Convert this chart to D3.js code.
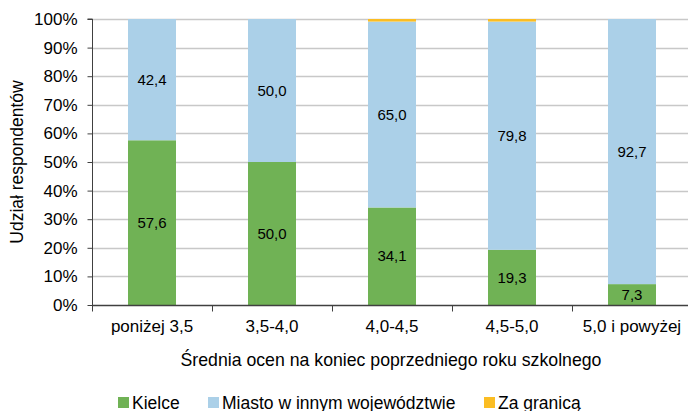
<!DOCTYPE html>
<html>
<head>
<meta charset="utf-8">
<script src="https://d3js.org/d3.v7.min.js"></script>
<style>
  html, body { margin: 0; padding: 0; background: #fff; }
  text { font-family: "Liberation Sans", Arial, sans-serif; fill: #000; }
</style>
</head>
<body>
<script>
// chart data
const categories = ["poniżej 3,5", "3,5-4,0", "4,0-4,5", "4,5-5,0", "5,0 i powyżej"];
const seriesNames = ["Kielce", "Miasto w innym województwie", "Za granicą"];
const kielce = [57.6, 50.0, 34.1, 19.3, 7.3];
const miasto = [42.4, 50.0, 65.0, 79.8, 92.7];
const zagranica = [0, 0, 0.9, 0.9, 0];
const yTicks = [0, 10, 20, 30, 40, 50, 60, 70, 80, 90, 100];
const colors = ["#70b255", "#abd0e8", "#fbbd23"];

const width = 688, height = 411;
const margin = { top: 19, right: -4, bottom: 106, left: 92 };

const svg = d3.select("body").append("svg")
    .attr("width", width)
    .attr("height", height);

const x = d3.scaleBand()
    .domain(categories)
    .range([margin.left, width - margin.right])
    .paddingInner(0.6)
    .paddingOuter(0.3);

const xOuter = d3.scaleBand()
    .domain(categories)
    .range([margin.left, width - margin.right]);

const y = d3.scaleLinear()
    .domain([0, 100])
    .range([height - margin.bottom, margin.top]);

// gridlines
svg.append("g")
  .selectAll("line")
  .data(yTicks.filter(d => d > 0))
  .enter().append("line")
    .attr("x1", margin.left)
    .attr("x2", width)
    .attr("y1", d => Math.round(y(d)) + 0.5)
    .attr("y2", d => Math.round(y(d)) + 0.5)
    .attr("stroke", "#c8c8c8")
    .attr("stroke-width", 1.3);

// stacked data
const rows = categories.map((c, i) => ({ cat: c, s0: kielce[i], s1: miasto[i], s2: zagranica[i] }));
const stack = d3.stack().keys(["s0", "s1", "s2"]);
const layers = stack(rows);

const layerG = svg.append("g")
  .selectAll("g")
  .data(layers)
  .enter().append("g")
    .attr("fill", (d, i) => colors[i]);

layerG.selectAll("rect")
  .data(d => d)
  .enter().append("rect")
    .attr("x", d => x(d.data.cat))
    .attr("width", x.bandwidth())
    .attr("y", d => y(d[1]))
    .attr("height", d => y(d[0]) - y(d[1]));

// data labels
const fmt = v => v.toFixed(1).replace(".", ",");
layers.slice(0, 2).forEach(layer => {
  svg.append("g")
    .selectAll("text")
    .data(layer.filter(d => d[1] - d[0] > 0))
    .enter().append("text")
      .attr("x", d => x(d.data.cat) + x.bandwidth() / 2)
      .attr("y", d => y((d[0] + d[1]) / 2))
      .attr("dy", "0.35em")
      .attr("text-anchor", "middle")
      .attr("font-size", 15)
      .text(d => fmt(d[1] - d[0]));
});

// y axis
const yAxis = svg.append("g")
    .attr("transform", `translate(${margin.left + 0.5},0)`)
    .call(d3.axisLeft(y).tickValues(yTicks).tickSize(5).tickFormat(d => d + "%"));
yAxis.select(".domain").attr("stroke", "#404040").attr("d", `M-5,${y(100)}H0V${y(0)}`);
yAxis.selectAll(".tick line").attr("stroke", "#404040");
yAxis.selectAll(".tick text")
    .attr("font-size", 17)
    .attr("x", -15)
    .attr("font-family", "Liberation Sans, Arial, sans-serif");

// x axis
const xAxisY = Math.round(y(0)) + 0.5;
const xAxis = svg.append("g")
    .attr("transform", `translate(0,${xAxisY})`);
xAxis.append("line")
    .attr("x1", margin.left).attr("x2", width)
    .attr("stroke", "#404040").attr("stroke-width", 1.3);
xAxis.selectAll(".sep")
  .data(categories)
  .enter().append("line")
    .attr("x1", d => Math.round(xOuter(d)) + 0.5)
    .attr("x2", d => Math.round(xOuter(d)) + 0.5)
    .attr("y1", 0).attr("y2", 6)
    .attr("stroke", "#404040");
xAxis.selectAll("text")
  .data(categories)
  .enter().append("text")
    .attr("x", d => xOuter(d) + xOuter.bandwidth() / 2)
    .attr("y", 26)
    .attr("text-anchor", "middle")
    .attr("font-size", 17)
    .text(d => d);

// axis titles
svg.append("text")
    .attr("x", 391)
    .attr("y", 366)
    .attr("text-anchor", "middle")
    .attr("font-size", 17.7)
    .text("Średnia ocen na koniec poprzedniego roku szkolnego");

svg.append("text")
    .attr("transform", `translate(23,${(y(0) + y(100)) / 2}) rotate(-90)`)
    .attr("text-anchor", "middle")
    .attr("font-size", 17.5)
    .text("Udział respondentów");

// legend
const legendX = [118, 208, 484];
const legend = svg.append("g");
seriesNames.forEach((name, i) => {
  legend.append("rect")
    .attr("x", legendX[i]).attr("y", 397)
    .attr("width", 11).attr("height", 11)
    .attr("fill", colors[i]);
  legend.append("text")
    .attr("x", legendX[i] + 14).attr("y", 408.5)
    .attr("font-size", 17.5)
    .text(name);
});
</script>
</body>
</html>
